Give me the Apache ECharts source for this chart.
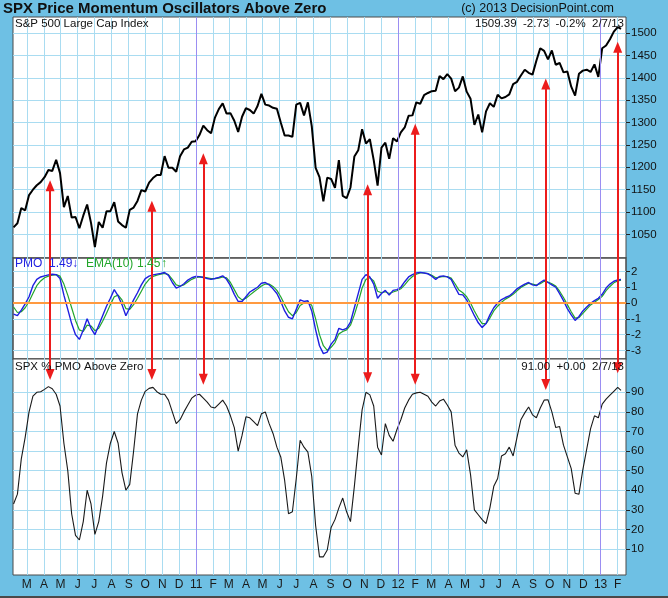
<!DOCTYPE html>
<html><head><meta charset="utf-8">
<script src="https://cdn.jsdelivr.net/npm/echarts@6/dist/echarts.min.js"></script>
<style>html,body{margin:0;padding:0;background:#6ec0e4;}#c{width:668px;height:598px;}</style>
</head><body><div id="c"></div>
<script>
// ---------- DATA ----------
const dates = [
'2010-02-05','2010-02-12','2010-02-19','2010-02-26','2010-03-05','2010-03-12','2010-03-19','2010-03-26',
'2010-04-02','2010-04-09','2010-04-16','2010-04-23','2010-04-30','2010-05-07','2010-05-14','2010-05-21','2010-05-28',
'2010-06-04','2010-06-11','2010-06-18','2010-06-25','2010-07-02','2010-07-09','2010-07-16','2010-07-23','2010-07-30',
'2010-08-06','2010-08-13','2010-08-20','2010-08-27','2010-09-03','2010-09-10','2010-09-17','2010-09-24',
'2010-10-01','2010-10-08','2010-10-15','2010-10-22','2010-10-29','2010-11-05','2010-11-12','2010-11-19','2010-11-26',
'2010-12-03','2010-12-10','2010-12-17','2010-12-24','2010-12-31',
'2011-01-07','2011-01-14','2011-01-21','2011-01-28','2011-02-04','2011-02-11','2011-02-18','2011-02-25',
'2011-03-04','2011-03-11','2011-03-18','2011-03-25','2011-04-01','2011-04-08','2011-04-15','2011-04-22','2011-04-29',
'2011-05-06','2011-05-13','2011-05-20','2011-05-27','2011-06-03','2011-06-10','2011-06-17','2011-06-24',
'2011-07-01','2011-07-08','2011-07-15','2011-07-22','2011-07-29','2011-08-05','2011-08-12','2011-08-19','2011-08-26',
'2011-09-02','2011-09-09','2011-09-16','2011-09-23','2011-09-30','2011-10-07','2011-10-14','2011-10-21','2011-10-28',
'2011-11-04','2011-11-11','2011-11-18','2011-11-25','2011-12-02','2011-12-09','2011-12-16','2011-12-23','2011-12-30',
'2012-01-06','2012-01-13','2012-01-20','2012-01-27','2012-02-03','2012-02-10','2012-02-17','2012-02-24',
'2012-03-02','2012-03-09','2012-03-16','2012-03-23','2012-03-30','2012-04-06','2012-04-13','2012-04-20','2012-04-27',
'2012-05-04','2012-05-11','2012-05-18','2012-05-25','2012-06-01','2012-06-08','2012-06-15','2012-06-22','2012-06-29',
'2012-07-06','2012-07-13','2012-07-20','2012-07-27','2012-08-03','2012-08-10','2012-08-17','2012-08-24','2012-08-31',
'2012-09-07','2012-09-14','2012-09-21','2012-09-28','2012-10-05','2012-10-12','2012-10-19','2012-10-26',
'2012-11-02','2012-11-09','2012-11-16','2012-11-23','2012-11-30','2012-12-07','2012-12-14','2012-12-21','2012-12-28',
'2013-01-04','2013-01-11','2013-01-18','2013-01-25','2013-02-01','2013-02-07'
];
const spx = [
1066,1075,1109,1104,1138,1150,1160,1167,1178,1194,1192,1217,1187,1111,1136,1088,1089,1064,1092,1117,1076,1022,1078,1065,1102,1102,
1122,1079,1071,1065,1105,1110,1125,1149,1146,1166,1176,1183,1183,1225,1199,1199,1190,1225,1240,1244,1257,1258,
1272,1293,1283,1276,1311,1330,1343,1320,1321,1304,1279,1313,1332,1328,1320,1337,1364,1340,1338,1333,1331,1300,1271,1271,1268,
1340,1344,1316,1345,1292,1199,1178,1124,1177,1174,1154,1216,1136,1131,1155,1224,1238,1285,1253,1263,1216,1159,1244,1255,1219,1265,1258,
1278,1289,1315,1316,1345,1342,1361,1366,1370,1371,1404,1397,1408,1398,1370,1378,1403,1369,1353,1295,1318,1278,1325,1343,1335,1362,
1354,1357,1363,1386,1391,1405,1418,1411,1407,1438,1466,1460,1441,1461,1429,1433,1412,1414,1380,1360,1409,1416,1418,1413,1430,1402,
1466,1472,1486,1503,1513,1509
];
const pmo = [
-0.7,-0.8,-0.45,-0.05, 0.4,1.1,1.5,1.65, 1.72,1.78,1.82,1.8,1.55, 0.5,-0.4,-1.3,-2.0, -2.3,-1.7,-1.0,-1.6,
-2.0,-1.4,-0.8,-0.2,0.3, 0.85,0.45,-0.1,-0.8, -0.3,0.2,0.65,1.15, 1.55,1.7,1.78,1.83,1.87, 1.93,1.75,1.3,0.95, 1.05,1.22,1.45,1.6,1.68,
1.67,1.62,1.55,1.5, 1.55,1.62,1.72,1.5, 1.1,0.55,0.1,0.1, 0.4,0.7,0.85,1.0,1.25, 1.3,1.15,0.9,0.6, 0.1,-0.5,-0.9,-1.0,
-0.4,0.2,0.1,0.15,-0.5, -1.7,-2.7,-3.2,-3.1, -2.6,-2.3,-1.6,-1.7,-1.6, -1.2,-0.3,0.6,1.5, 1.8,1.65,1.2,0.3, 0.6,0.8,0.5,0.8,0.85,
1.0,1.35,1.65,1.8, 1.9,1.94,1.9,1.85, 1.7,1.5,1.68,1.72,1.66, 1.5,1.0,0.55,0.52, 0.2,-0.3,-0.8,-1.25, -1.55,-1.3,-0.75,-0.3,0.0,
0.22,0.35,0.45,0.65, 0.9,1.05,1.2,1.3,1.15, 1.1,1.3,1.45,1.3, 1.15,1.0,0.6,0.15, -0.35,-0.75,-1.1,-0.85,-0.5, -0.25,-0.02,0.15,0.3,
0.55,0.95,1.2,1.38,1.46,1.49
];
const pmoEma = [
-0.25,-0.6,-0.55,-0.3, 0.1,0.6,1.1,1.4, 1.6,1.7,1.76,1.8,1.7, 1.2,0.5,-0.3,-1.1, -1.7,-1.8,-1.4,-1.45,
-1.75,-1.6,-1.15,-0.65,-0.1, 0.4,0.5,0.2,-0.35, -0.4,-0.1,0.3,0.75, 1.2,1.5,1.68,1.77,1.82, 1.88,1.8,1.5,1.15, 1.08,1.15,1.33,1.5,1.6,
1.65,1.64,1.6,1.55, 1.55,1.58,1.65,1.6, 1.3,0.85,0.4,0.2, 0.3,0.5,0.7,0.88,1.08, 1.2,1.2,1.05,0.8, 0.4,-0.1,-0.55,-0.8,
-0.6,-0.15,0.0,0.1,-0.15, -1.0,-2.0,-2.7,-3.0, -2.8,-2.5,-1.95,-1.8,-1.7, -1.4,-0.75,0.05,0.95, 1.5,1.6,1.4,0.75, 0.65,0.72,0.6,0.7,0.78,
0.9,1.15,1.45,1.68, 1.82,1.9,1.9,1.86, 1.76,1.6,1.64,1.68,1.67, 1.58,1.22,0.82,0.65, 0.4,0.0,-0.5,-0.95, -1.3,-1.3,-0.95,-0.5,-0.2,
0.05,0.25,0.38,0.55, 0.78,0.98,1.12,1.25,1.2, 1.13,1.22,1.38,1.33, 1.22,1.07,0.75,0.35, -0.1,-0.55,-0.95,-0.92,-0.65, -0.38,-0.12,0.05,0.22,
0.42,0.78,1.05,1.28,1.4,1.45
];
const pctAbove = [
33,38,56,67, 80,88,90,90.3, 91.5,92.9,91.8,89,83, 64,50,28,17, 14.6,24,40,33,
17.5,24,37,54,64, 70,64,49,40, 43,60,79,86, 90.5,92,92.5,90.3,89, 89,86,80,74, 76,80,83.5,87,88.5,
89,87,85,82.5, 82,84,86,83, 78,72,60,68, 77.5,77,75,73,79, 80,74,69,62, 57,45,28,29,
46,65.5,62,59.5,47, 22,6,6,9.5, 21,25,31,36,29, 24,42,62,81, 90,88.7,83,62, 58,74,68,65,71,
76,82,86,89, 89.7,90,89,88, 85,83,85.5,86.5,83.5, 80,63,59,57, 60.6,48,30,27.5, 25,23,31,42,46,
57.5,58.6,62,57.5, 67,76,79.5,82.5,78.5, 77,82,86,86.2, 80,72,72.5,63, 57,51,38.5,38,50.5, 61,71.5,78,77,
84,86.5,88.5,90.5,92.5,91
];
// arrows (annotation events)
const arrowDates = ['2010-04-12','2010-10-13','2011-01-14','2011-11-07','2012-02-01','2012-09-24','2013-02-01'];
const arrowSpx   = [1159,1113,1219,1150,1285,1386,1468];
const arrowPct   = [99.1,99.1,96.6,97.4,96.6,94,102.5];
// axes / ticks
const monthTicks = [
'2010-03-01','2010-04-01','2010-05-01','2010-06-01','2010-07-01','2010-08-01','2010-09-01','2010-10-01','2010-11-01','2010-12-01',
'2011-01-01','2011-02-01','2011-03-01','2011-04-01','2011-05-01','2011-06-01','2011-07-01','2011-08-01','2011-09-01','2011-10-01','2011-11-01','2011-12-01',
'2012-01-01','2012-02-01','2012-03-01','2012-04-01','2012-05-01','2012-06-01','2012-07-01','2012-08-01','2012-09-01','2012-10-01','2012-11-01','2012-12-01',
'2013-01-01','2013-02-01'];
const monthLetters = ['J','F','M','A','M','J','J','A','S','O','N','D'];
const yearLines = ['2011-01-01','2012-01-01','2013-01-01'];
const spxTicks = [1050,1100,1150,1200,1250,1300,1350,1400,1450,1500];
const pmoTicks = [-3,-2,-1,0,1,2];
const pctTicks = [10,20,30,40,50,60,70,80,90];
const titleText = 'SPX Price Momentum Oscillators Above Zero';
const creditText = '(c) 2013 DecisionPoint.com';
const spxHeader = ['S&P 500 Large Cap Index', '1509.39  -2.73  -0.2%  2/7/13'];
const pmoHeader = ['PMO', '1.49', 'EMA(10)', '1.45'];
const pctHeader = ['SPX % PMO Above Zero', '91.00  +0.00  2/7/13'];

// ---------- LAYOUT ----------
const toTs = s => { const p = s.split('-'); return new Date(+p[0], +p[1]-1, +p[2]).getTime(); };
const X_MIN = toTs('2010-02-04'), X_MAX = toTs('2013-02-16');
const SPX_R = [997.5, 1535.7], PMO_R = [-3.54, 2.85], PCT_R = [-3.27, 107];
const GRIDC = '#a9dcf1', PURPLE = '#9b8ef2', RED = '#ec1c1c';
const T = dates.map(toTs);
const mT = monthTicks.map(toTs);
const L = 13, R = 42;
const FONT = 'Liberation Sans, Arial, sans-serif';

function xAxis(gi, showLabel) {
  return {
    type: 'value', gridIndex: gi, min: X_MIN, max: X_MAX, scale: true,
    axisLine: {show: false},
    axisTick: {show: false, customValues: mT},
    axisLabel: {show: showLabel, customValues: mT, margin: 4, fontSize: 12, color: '#1a1a1a', fontFamily: FONT,
      formatter: v => { const d = new Date(v); return d.getMonth() === 0 ? String(d.getFullYear()).slice(2) : monthLetters[d.getMonth()]; }},
    splitLine: {show: true, lineStyle: {color: GRIDC, width: 1}}
  };
}
function yAxis(gi, r, ticks) {
  return {
    type: 'value', gridIndex: gi, position: 'right', min: r[0], max: r[1],
    axisLine: {show: false},
    axisTick: {show: true, length: 4, customValues: ticks, lineStyle: {color: '#222'}},
    axisLabel: {customValues: ticks, margin: 5, fontSize: 11.5, color: '#111', fontFamily: FONT,
      formatter: v => String(v)},
    splitLine: {show: true, lineStyle: {color: GRIDC, width: 1}}
  };
}
const yearMarks = yearLines.map(s => ({xAxis: toTs(s), lineStyle: {color: PURPLE, width: 1, type: 'solid'}}));

const topArrows = arrowDates.map((d, i) => [
  {coord: [toTs(d), arrowSpx[i]], symbol: 'triangle', symbolSize: [9, 11]},
  {coord: [toTs(d), SPX_R[0]], symbol: 'none'}]);
const midArrows = arrowDates.map(d => [
  {coord: [toTs(d), PMO_R[1]], symbol: 'none'},
  {coord: [toTs(d), PMO_R[0]], symbol: 'none'}]);
const botArrows = arrowDates.map((d, i) => [
  {coord: [toTs(d), PCT_R[1]], symbol: 'none'},
  {coord: [toTs(d), arrowPct[i]], symbol: 'triangle', symbolSize: [9, 11]}]);

function txt(x, y, text, opt) {
  return {type: 'text', x: x, y: y, z: 100, silent: true,
    style: Object.assign({text: text, fontFamily: FONT, fontSize: 11.5, fill: '#111',
      textVerticalAlign: 'middle', verticalAlign: 'middle'}, opt || {})};
}

const chart = echarts.init(document.getElementById('c'), null, {renderer: 'canvas'});
chart.setOption({
  animation: false,
  backgroundColor: '#6ec0e4',
  grid: [
    {left: L, right: R, top: 17, height: 241, show: true, backgroundColor: '#fff', borderColor: '#4a4a4a', borderWidth: 1},
    {left: L, right: R, top: 258, height: 101, show: true, backgroundColor: '#fff', borderColor: '#4a4a4a', borderWidth: 1.5},
    {left: L, right: R, top: 359, height: 216, show: true, backgroundColor: '#fff', borderColor: '#4a4a4a', borderWidth: 1}
  ],
  xAxis: [xAxis(0, false), xAxis(1, false), xAxis(2, true)],
  yAxis: [yAxis(0, SPX_R, spxTicks), yAxis(1, PMO_R, pmoTicks), yAxis(2, PCT_R, pctTicks)],
  series: [
    {type: 'line', xAxisIndex: 0, yAxisIndex: 0, data: T.map((t, i) => [t, spx[i]]), symbol: 'none',
     lineStyle: {color: '#000', width: 2}, z: 3,
     markLine: {silent: true, animation: false, label: {show: false}, symbol: 'none', data: yearMarks}},
    {type: 'line', xAxisIndex: 0, yAxisIndex: 0, data: T.map((t, i) => [t, spx[i]]), symbol: 'none', lineStyle: {opacity: 0}, z: 6,
     markLine: {silent: true, animation: false, label: {show: false}, lineStyle: {color: RED, width: 2, type: 'solid'}, data: topArrows}},
    {type: 'line', xAxisIndex: 1, yAxisIndex: 1, data: T.map((t, i) => [t, pmoEma[i]]), symbol: 'none',
     lineStyle: {color: '#22a52a', width: 1.2}, z: 3,
     markLine: {silent: true, animation: false, label: {show: false}, symbol: 'none',
       data: yearMarks.concat([{yAxis: 0, lineStyle: {color: '#ff9a40', width: 2, type: 'solid'}}])}},
    {type: 'line', xAxisIndex: 1, yAxisIndex: 1, data: T.map((t, i) => [t, pmo[i]]), symbol: 'none',
     lineStyle: {color: '#1f1fe0', width: 1.4}, z: 4,
     markLine: {silent: true, animation: false, label: {show: false}, lineStyle: {color: RED, width: 2, type: 'solid'}, data: midArrows}},
    {type: 'line', xAxisIndex: 2, yAxisIndex: 2, data: T.map((t, i) => [t, pctAbove[i]]), symbol: 'none',
     lineStyle: {color: '#1a1a1a', width: 1.1}, z: 3,
     markLine: {silent: true, animation: false, label: {show: false}, symbol: 'none', data: yearMarks}},
    {type: 'line', xAxisIndex: 2, yAxisIndex: 2, data: T.map((t, i) => [t, pctAbove[i]]), symbol: 'none', lineStyle: {opacity: 0}, z: 6,
     markLine: {silent: true, animation: false, label: {show: false}, lineStyle: {color: RED, width: 2, type: 'solid'}, data: botArrows}}
  ],
  graphic: [
    txt(3, 9, titleText, {fontSize: 15, fontWeight: 'bold', fill: '#101010'}),
    txt(614, 9, creditText, {fontSize: 12.5, textAlign: 'right', align: 'right'}),
    txt(15, 24, spxHeader[0]),
    txt(624, 24, spxHeader[1], {textAlign: 'right', align: 'right'}),
    txt(15, 264, pmoHeader[0], {fill: '#1f1fe0', fontSize: 12}),
    txt(49, 264, pmoHeader[1], {fill: '#1f1fe0', fontSize: 12}),
    txt(72, 264, '\u2193', {fill: '#1f1fe0', fontSize: 12, fontWeight: 'bold'}),
    txt(86, 264, pmoHeader[2], {fill: '#22a52a', fontSize: 12}),
    txt(137, 264, pmoHeader[3], {fill: '#22a52a', fontSize: 12}),
    txt(161, 264, '\u2191', {fill: '#22a52a', fontSize: 12, fontWeight: 'bold'}),
    txt(15, 367, pctHeader[0]),
    txt(624, 367, pctHeader[1], {textAlign: 'right', align: 'right'}),
    {type: 'rect', shape: {x: 0, y: 596, width: 668, height: 2}, style: {fill: '#4a4a4a'}, silent: true}
  ]
});
</script></body></html>
